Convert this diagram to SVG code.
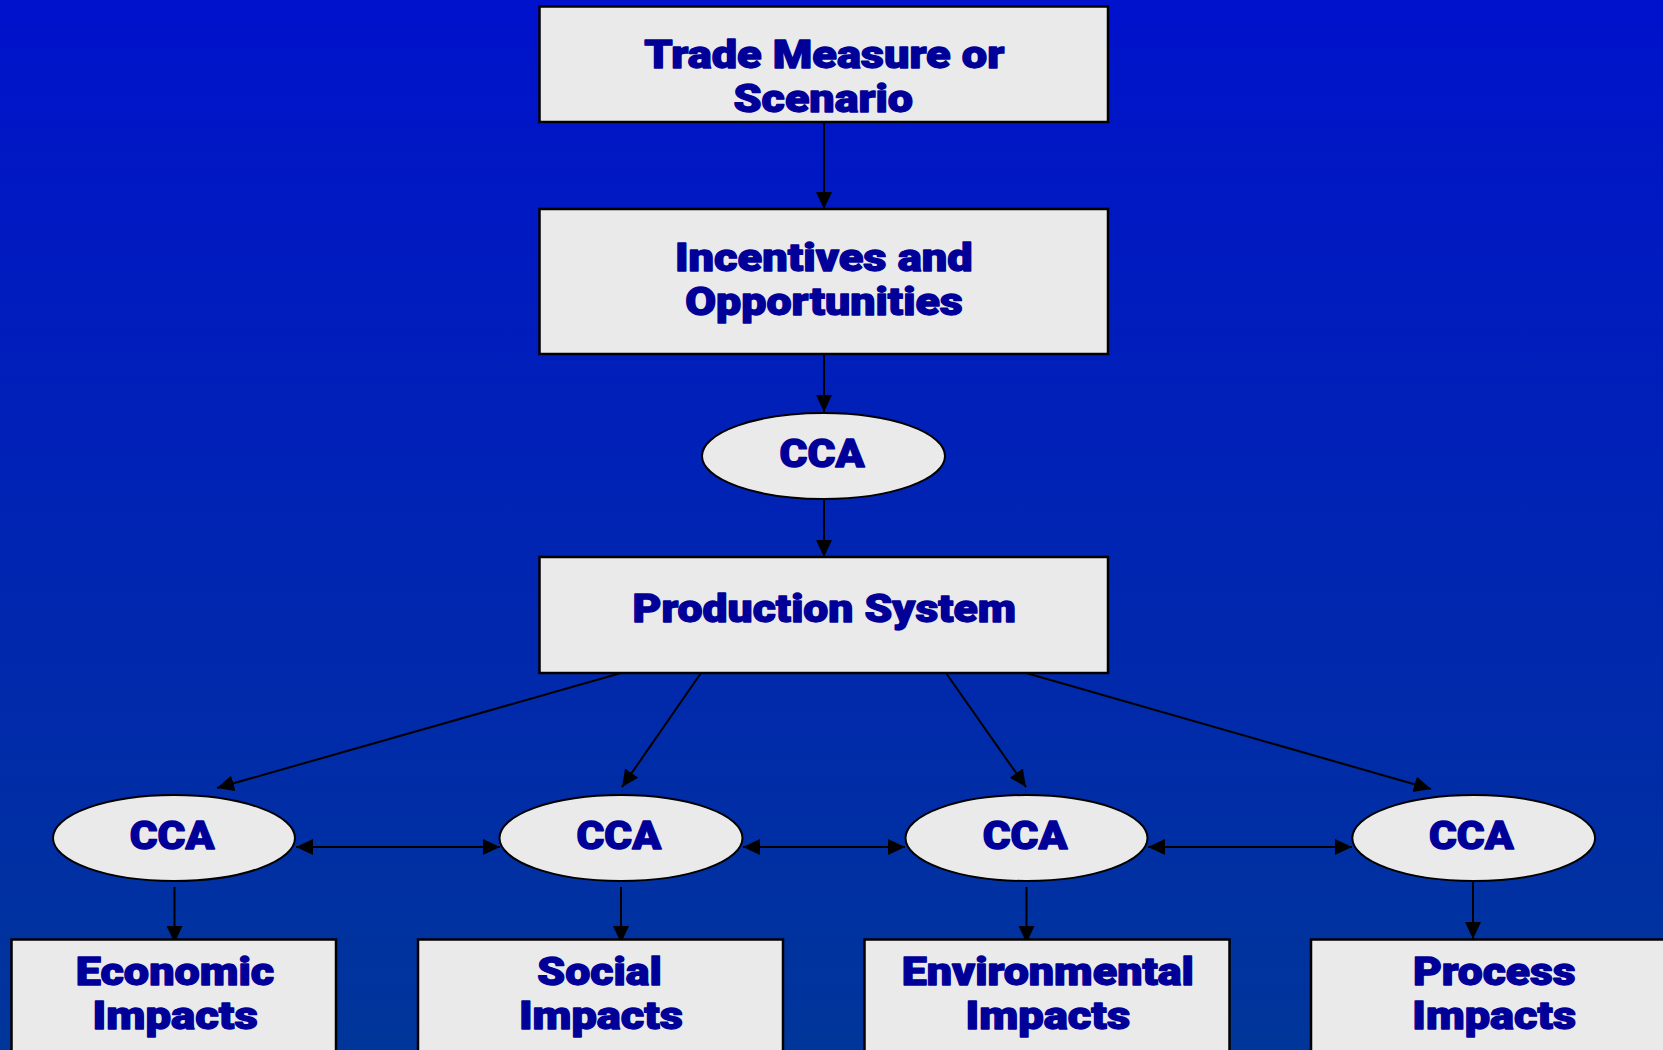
<svg xmlns="http://www.w3.org/2000/svg" width="1663" height="1050" viewBox="0 0 1663 1050">
<defs>
<linearGradient id="bg" x1="0" y1="0" x2="0" y2="1">
<stop offset="0" stop-color="#0012CC"/>
<stop offset="1" stop-color="#00369A"/>
</linearGradient>
<marker id="ah" markerUnits="userSpaceOnUse" markerWidth="17" markerHeight="16" viewBox="0 0 17 16" refX="17" refY="8" orient="auto-start-reverse">
<path d="M0,0 L17,8 L0,16 z" fill="#000"/>
</marker>
<style>
.box{fill:#EAEAEA;stroke:#000;stroke-width:2.5}
.ell{fill:#EAEAEA;stroke:#000;stroke-width:2}
.t{font-family:"Roboto","Inter","Liberation Sans",sans-serif;font-weight:900;font-size:39px;fill:#000099;stroke:#000099;stroke-width:1.3;stroke-linejoin:round;text-anchor:middle;font-variant-ligatures:none}
.c line{stroke:#000;stroke-width:2}
.a{marker-end:url(#ah)}
.d{marker-start:url(#ah);marker-end:url(#ah)}
</style>
</defs>
<rect width="1663" height="1050" fill="url(#bg)"/>
<g class="c" id="connectors">
<line class="a" x1="824" y1="122" x2="824" y2="209"/>
<line class="a" x1="824" y1="354" x2="824" y2="412"/>
<line class="a" x1="824" y1="499" x2="824" y2="557"/>
<line class="a" x1="621" y1="673" x2="217" y2="788"/>
<line class="a" x1="701" y1="673" x2="622" y2="787"/>
<line class="a" x1="946" y1="673" x2="1026" y2="787"/>
<line class="a" x1="1026" y1="673" x2="1431" y2="789"/>
<line class="d" x1="296" y1="847" x2="500" y2="847"/>
<line class="d" x1="743" y1="847" x2="905" y2="847"/>
<line class="d" x1="1148" y1="847" x2="1352" y2="847"/>
<line class="a" x1="174.5" y1="887" x2="174.5" y2="943"/>
<line class="a" x1="621" y1="887" x2="621" y2="943"/>
<line class="a" x1="1026.5" y1="887" x2="1026.5" y2="943"/>
<line class="a" x1="1473" y1="881" x2="1473" y2="939"/>
</g>
<g id="trade">
<rect class="box" x="539.5" y="6.5" width="568.5" height="115.5"/>
<text class="t" x="824.3" y="68" textLength="360" lengthAdjust="spacingAndGlyphs">Trade Measure or</text>
<text class="t" x="823.3" y="112" textLength="179.5" lengthAdjust="spacingAndGlyphs">Scenario</text>
</g>
<g id="incentives">
<rect class="box" x="539.5" y="209" width="568.5" height="145"/>
<text class="t" x="823.8" y="270.7" textLength="297.7" lengthAdjust="spacingAndGlyphs">Incentives and</text>
<text class="t" x="824" y="315" textLength="277.5" lengthAdjust="spacingAndGlyphs">Opportunities</text>
</g>
<g id="cca-top">
<ellipse class="ell" cx="823.5" cy="456" rx="121.5" ry="43"/>
<text class="t" x="822" y="466.7" textLength="85" lengthAdjust="spacingAndGlyphs">CCA</text>
</g>
<g id="production">
<rect class="box" x="539.5" y="557" width="568.5" height="116"/>
<text class="t" x="824.3" y="621.7" textLength="383.4" lengthAdjust="spacingAndGlyphs">Production System</text>
</g>
<g id="cca-1">
<ellipse class="ell" cx="174" cy="838" rx="121" ry="43"/>
<text class="t" x="172" y="849" textLength="84.7" lengthAdjust="spacingAndGlyphs">CCA</text>
</g>
<g id="cca-2">
<ellipse class="ell" cx="621" cy="838" rx="121.5" ry="43"/>
<text class="t" x="618.8" y="849" textLength="84.7" lengthAdjust="spacingAndGlyphs">CCA</text>
</g>
<g id="cca-3">
<ellipse class="ell" cx="1026.5" cy="838" rx="121" ry="43"/>
<text class="t" x="1025" y="849" textLength="84.7" lengthAdjust="spacingAndGlyphs">CCA</text>
</g>
<g id="cca-4">
<ellipse class="ell" cx="1473.7" cy="838" rx="121.4" ry="43"/>
<text class="t" x="1471.3" y="849" textLength="84.7" lengthAdjust="spacingAndGlyphs">CCA</text>
</g>
<g id="economic">
<rect class="box" x="11.5" y="939.5" width="324.5" height="130"/>
<text class="t" x="175" y="985" textLength="198.5" lengthAdjust="spacingAndGlyphs">Economic</text>
<text class="t" x="175.2" y="1029" textLength="165.2" lengthAdjust="spacingAndGlyphs">Impacts</text>
</g>
<g id="social">
<rect class="box" x="418" y="939.5" width="365" height="130"/>
<text class="t" x="599.5" y="985" textLength="124.4" lengthAdjust="spacingAndGlyphs">Social</text>
<text class="t" x="600.9" y="1029" textLength="164" lengthAdjust="spacingAndGlyphs">Impacts</text>
</g>
<g id="environmental">
<rect class="box" x="864.5" y="939.5" width="365" height="130"/>
<text class="t" x="1047.8" y="985" textLength="292.3" lengthAdjust="spacingAndGlyphs">Environmental</text>
<text class="t" x="1047.8" y="1029" textLength="164.7" lengthAdjust="spacingAndGlyphs">Impacts</text>
</g>
<g id="process">
<rect class="box" x="1311" y="939.5" width="365" height="130"/>
<text class="t" x="1494.2" y="985" textLength="162.6" lengthAdjust="spacingAndGlyphs">Process</text>
<text class="t" x="1494.2" y="1029" textLength="163.7" lengthAdjust="spacingAndGlyphs">Impacts</text>
</g>
</svg>
